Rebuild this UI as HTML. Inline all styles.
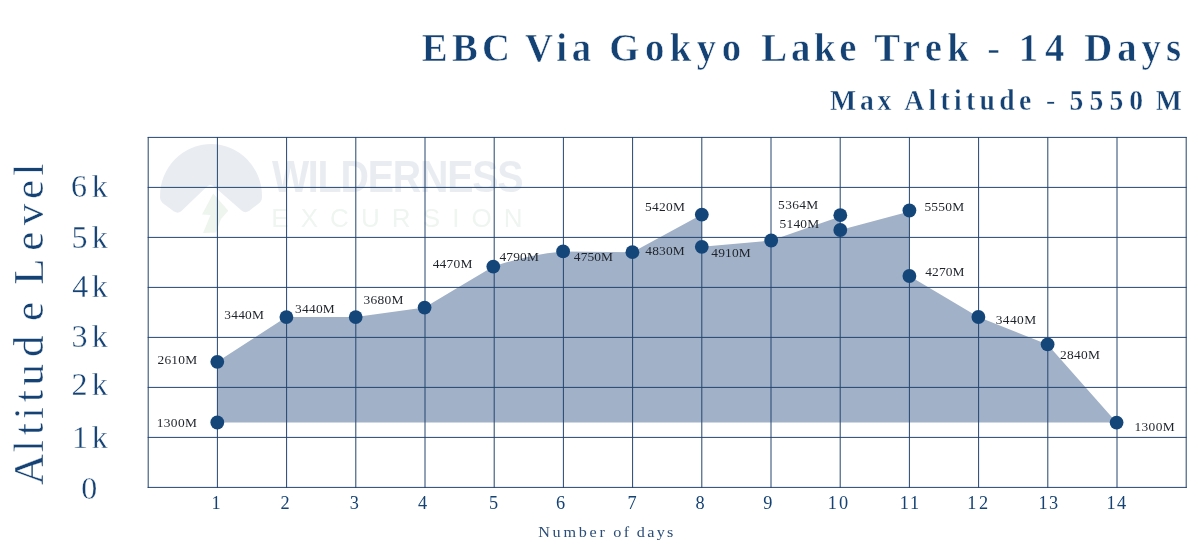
<!DOCTYPE html>
<html lang="en"><head><meta charset="utf-8"><title>EBC Via Gokyo Lake Trek - 14 Days</title>
<style>
html,body{margin:0;padding:0;background:#fff}
body{width:1200px;height:556px;overflow:hidden;position:relative;font-family:"Liberation Serif","DejaVu Serif",serif;color:#144274}
svg{position:absolute;left:0;top:0;display:block}
</style></head><body>
<svg width="1200" height="556" viewBox="0 0 1200 556" font-family="Liberation Serif, DejaVu Serif, serif" fill="#144274">
<g id="watermark">
<path d="M160 196 A50.5 51.5 0 0 1 262 196 Q262.5 200 260 202.500 L249 211 Q245 213.500 241.500 210.500 L214 186.500 Q210.500 183.500 207 186.500 L181.500 211 Q178 214 174 211.500 L162.500 203 Q159.500 200.500 160 196 Z" fill="#e9edf2"/>
<path d="M213.2 193.5 L228.3 210.8 L221 219 L216 232.5 L203 233 L210.5 215 L202 214.6 Z" fill="#edf5ee"/>
<text transform="translate(271.90 192.4) scale(0.88 1)" font-family="Liberation Sans, DejaVu Sans, sans-serif" font-weight="bold" font-size="44.7" letter-spacing="-1.33" fill="#e9edf2">WILDERNESS</text>
<text x="271.25" y="226.8" font-family="Liberation Sans, DejaVu Sans, sans-serif" font-size="26" letter-spacing="12.09" fill="#eff5f1">EXCURSION</text>
</g>
<path d="M217.3 422.5 L217.3 361.8 L286.4 317.1 L355.7 317.1 L424.6 307.6 Q459 287 493.3 266.6 Q528 254.5 563.1 251.4 L632.4 252.2 L701.8 214.6 L701.8 246.8 L771.2 240.5 L840.3 216.5 L840.3 230 L909.4 211.5 L909.4 276 L978.4 317 L1047.6 344.4 L1116.6 422.6 Z" fill="#a1b1c8"/>
<g stroke="#24456e" stroke-width="1" fill="none">
<line x1="148.20" y1="137" x2="148.20" y2="488"/>
<line x1="217.40" y1="137" x2="217.40" y2="488"/>
<line x1="286.60" y1="137" x2="286.60" y2="488"/>
<line x1="355.80" y1="137" x2="355.80" y2="488"/>
<line x1="425.00" y1="137" x2="425.00" y2="488"/>
<line x1="494.20" y1="137" x2="494.20" y2="488"/>
<line x1="563.40" y1="137" x2="563.40" y2="488"/>
<line x1="632.60" y1="137" x2="632.60" y2="488"/>
<line x1="701.80" y1="137" x2="701.80" y2="488"/>
<line x1="771.00" y1="137" x2="771.00" y2="488"/>
<line x1="840.20" y1="137" x2="840.20" y2="488"/>
<line x1="909.40" y1="137" x2="909.40" y2="488"/>
<line x1="978.60" y1="137" x2="978.60" y2="488"/>
<line x1="1047.80" y1="137" x2="1047.80" y2="488"/>
<line x1="1117.00" y1="137" x2="1117.00" y2="488"/>
<line x1="1186.20" y1="137" x2="1186.20" y2="488"/>
<line x1="147.70" y1="137.40" x2="1186.70" y2="137.40"/>
<line x1="147.70" y1="187.40" x2="1186.70" y2="187.40"/>
<line x1="147.70" y1="237.40" x2="1186.70" y2="237.40"/>
<line x1="147.70" y1="287.40" x2="1186.70" y2="287.40"/>
<line x1="147.70" y1="337.40" x2="1186.70" y2="337.40"/>
<line x1="147.70" y1="387.40" x2="1186.70" y2="387.40"/>
<line x1="147.70" y1="437.40" x2="1186.70" y2="437.40"/>
<line x1="147.70" y1="487.40" x2="1186.70" y2="487.40"/>
</g>
<g fill="#15467a">
<circle cx="217.3" cy="422.5" r="6.9"/>
<circle cx="217.3" cy="361.8" r="6.9"/>
<circle cx="286.4" cy="317.1" r="6.9"/>
<circle cx="355.7" cy="317.1" r="6.9"/>
<circle cx="424.6" cy="307.6" r="6.9"/>
<circle cx="493.3" cy="266.6" r="6.9"/>
<circle cx="563.1" cy="251.4" r="6.9"/>
<circle cx="632.4" cy="252.2" r="6.9"/>
<circle cx="701.8" cy="214.6" r="6.9"/>
<circle cx="701.8" cy="246.8" r="6.9"/>
<circle cx="771.2" cy="240.5" r="6.9"/>
<circle cx="840.3" cy="215.2" r="6.9"/>
<circle cx="840.3" cy="230.0" r="6.9"/>
<circle cx="909.4" cy="210.5" r="6.9"/>
<circle cx="909.4" cy="276.0" r="6.9"/>
<circle cx="978.4" cy="317.0" r="6.9"/>
<circle cx="1047.6" cy="344.4" r="6.9"/>
<circle cx="1116.6" cy="422.6" r="6.9"/>
</g>
<g font-size="12.8" fill="#1f242b">
<text transform="translate(156.69 427.40) scale(1.05 1)" letter-spacing="0.34">1300M</text>
<text transform="translate(157.47 364.00) scale(1.05 1)" letter-spacing="0.22">2610M</text>
<text transform="translate(224.21 318.90) scale(1.05 1)" letter-spacing="0.24">3440M</text>
<text transform="translate(295.01 312.50) scale(1.05 1)" letter-spacing="0.24">3440M</text>
<text transform="translate(363.51 303.60) scale(1.05 1)" letter-spacing="0.26">3680M</text>
<text transform="translate(432.64 268.00) scale(1.05 1)" letter-spacing="0.23">4470M</text>
<text transform="translate(499.44 260.60) scale(1.05 1)" letter-spacing="0.16">4790M</text>
<text transform="translate(573.84 261.30) scale(1.05 1)" letter-spacing="0.09">4750M</text>
<text transform="translate(645.34 255.00) scale(1.05 1)" letter-spacing="0.14">4830M</text>
<text transform="translate(711.34 256.80) scale(1.05 1)" letter-spacing="0.14">4910M</text>
<text transform="translate(645.11 211.40) scale(1.05 1)" letter-spacing="0.26">5420M</text>
<text transform="translate(778.11 208.50) scale(1.05 1)" letter-spacing="0.29">5364M</text>
<text transform="translate(779.51 227.50) scale(1.05 1)" letter-spacing="0.21">5140M</text>
<text transform="translate(924.41 211.40) scale(1.05 1)" letter-spacing="0.21">5550M</text>
<text transform="translate(925.24 276.20) scale(1.05 1)" letter-spacing="0.11">4270M</text>
<text transform="translate(995.71 323.60) scale(1.05 1)" letter-spacing="0.40">3440M</text>
<text transform="translate(1060.07 359.30) scale(1.05 1)" letter-spacing="0.25">2840M</text>
<text transform="translate(1134.49 430.80) scale(1.05 1)" letter-spacing="0.32">1300M</text>
</g>
<text font-size="18.3"><tspan x="211.50" y="508.70" letter-spacing="0.00">1</tspan> <tspan x="280.52" y="508.70" letter-spacing="0.00">2</tspan> <tspan x="349.75" y="508.70" letter-spacing="0.00">3</tspan> <tspan x="418.02" y="508.70" letter-spacing="0.00">4</tspan> <tspan x="489.00" y="508.70" letter-spacing="0.00">5</tspan> <tspan x="555.98" y="508.70" letter-spacing="0.00">6</tspan> <tspan x="627.52" y="508.70" letter-spacing="0.00">7</tspan> <tspan x="695.48" y="508.70" letter-spacing="0.00">8</tspan> <tspan x="763.23" y="508.70" letter-spacing="0.00">9</tspan> <tspan x="827.85" y="508.70" letter-spacing="1.90">10</tspan> <tspan x="899.80" y="508.70" letter-spacing="1.80">11</tspan> <tspan x="967.30" y="508.70" letter-spacing="2.65">12</tspan> <tspan x="1038.55" y="508.70" letter-spacing="1.30">13</tspan> <tspan x="1106.45" y="508.70" letter-spacing="1.40">14</tspan></text>
<text font-size="32" stroke="#fff" stroke-width="0.3"><tspan x="70.90" y="196.80" letter-spacing="4.90">6k</tspan> <tspan x="71.55" y="247.50" letter-spacing="4.25">5k</tspan> <tspan x="72.15" y="296.60" letter-spacing="3.55">4k</tspan> <tspan x="71.40" y="346.60" letter-spacing="4.30">3k</tspan> <tspan x="71.40" y="395.20" letter-spacing="4.40">2k</tspan> <tspan x="71.95" y="447.50" letter-spacing="3.85">1k</tspan> <tspan x="81.35" y="499.30" letter-spacing="0.00">0</tspan></text>
<text transform="scale(1.1 1)" font-size="14.7" fill="#2b4d78"><tspan x="489.27" y="537.40" letter-spacing="2.50">Number</tspan> <tspan x="557.45" y="537.40" letter-spacing="2.30">of</tspan> <tspan x="578.95" y="537.40" letter-spacing="2.11">days</tspan></text>
<text transform="translate(43.3 0) rotate(-90)" font-size="43" stroke="#fff" stroke-width="0.35" x="-485.12 -451.93 -435.08 -418.88 -402.08 -385.38 -357.10 -321.12 -298.00 -284.85 -250.72 -225.15 -199.12 -175.47" y="0">Altitude Level</text>
<text transform="scale(0.95 1)" font-weight="bold" font-size="40.8" stroke="#fff" stroke-width="0.55"><tspan x="443.99" y="61.25" letter-spacing="4.47">EBC</tspan> <tspan x="552.66" y="61.25" letter-spacing="4.96">Via</tspan> <tspan x="641.42" y="61.25" letter-spacing="5.75">Gokyo</tspan> <tspan x="801.36" y="61.25" letter-spacing="3.97">Lake</tspan> <tspan x="920.30" y="61.25" letter-spacing="5.73">Trek</tspan> <tspan x="1039.29" y="61.25" letter-spacing="0.00" font-weight="normal">-</tspan> <tspan x="1072.28" y="61.25" letter-spacing="7.46">14</tspan> <tspan x="1141.36" y="61.25" letter-spacing="5.25">Days</tspan></text>
<text transform="scale(0.95 1)" font-weight="bold" font-size="29.1" stroke="#fff" stroke-width="0.4"><tspan x="873.71" y="110.00" letter-spacing="3.97">Max</tspan> <tspan x="951.86" y="110.00" letter-spacing="4.55">Altitude</tspan> <tspan x="1101.11" y="110.00" letter-spacing="0.00" font-weight="normal">-</tspan> <tspan x="1125.86" y="110.00" letter-spacing="6.42">5550</tspan> <tspan x="1216.61" y="110.00" letter-spacing="0.00">M</tspan></text>
</svg></body></html>
